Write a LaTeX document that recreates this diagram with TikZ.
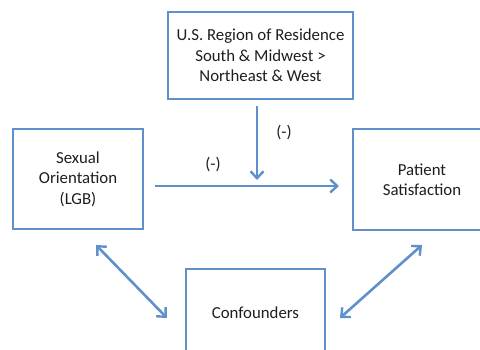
\documentclass[tikz,border=0pt]{standalone}
\usepackage{fontspec}
\setmainfont{Carlito}
\usetikzlibrary{arrows.meta}
\definecolor{lineblue}{RGB}{95,144,204}
\definecolor{txt}{RGB}{30,30,30}
\begin{document}
\begin{tikzpicture}[x=1pt,y=-1pt,
  box/.style={draw=lineblue,line width=2.8pt,fill=white,inner sep=0pt,align=center,
    text=txt,font=\fontsize{16.8}{20.5}\selectfont},
  conn/.style={draw=lineblue,line width=2.6pt,
    -{Straight Barb[length=7pt,width=13pt,line width=2.4pt]}},
  biconn/.style={conn,{Straight Barb[length=7pt,width=13pt,line width=2.4pt]}-{Straight Barb[length=7pt,width=13pt,line width=2.4pt]}},
  lbl/.style={text=txt,font=\fontsize{16.8}{20}\selectfont}]
\useasboundingbox (0,0) rectangle (480,349);
\clip (0,0) rectangle (480,349);
\node[box,minimum width=185pt,minimum height=87pt] (region) at (260.5,55.5)
  {U.S. Region of Residence\\South \& Midwest >\\Northeast \& West};
\node[box,minimum width=130pt,minimum height=100pt] (so) at (78,179)
  {Sexual\\Orientation\\(LGB)};
\node[box,minimum width=138pt,minimum height=101pt] (ps) at (422,179.5)
  {Patient\\Satisfaction};
\node[box,minimum width=139pt,minimum height=88pt] (conf) at (255.5,313)
  {Confounders};
\coordinate (hs) at (155,186);
\coordinate (he) at (339,186);
\coordinate (vs) at (257,106);
\coordinate (ve) at (257,180);
\coordinate (la) at (96,245);
\coordinate (lb) at (167,318);
\coordinate (ra) at (422,245);
\coordinate (rb) at (340,318);
\draw[conn] (hs) -- (he);
\draw[conn] (vs) -- (ve);
\draw[biconn] (la) -- (lb);
\draw[biconn] (ra) -- (rb);
\node[lbl] (m1) at (213,165) {(-)};
\node[lbl] (m2) at (284,133) {(-)};
\end{tikzpicture}
\end{document}
